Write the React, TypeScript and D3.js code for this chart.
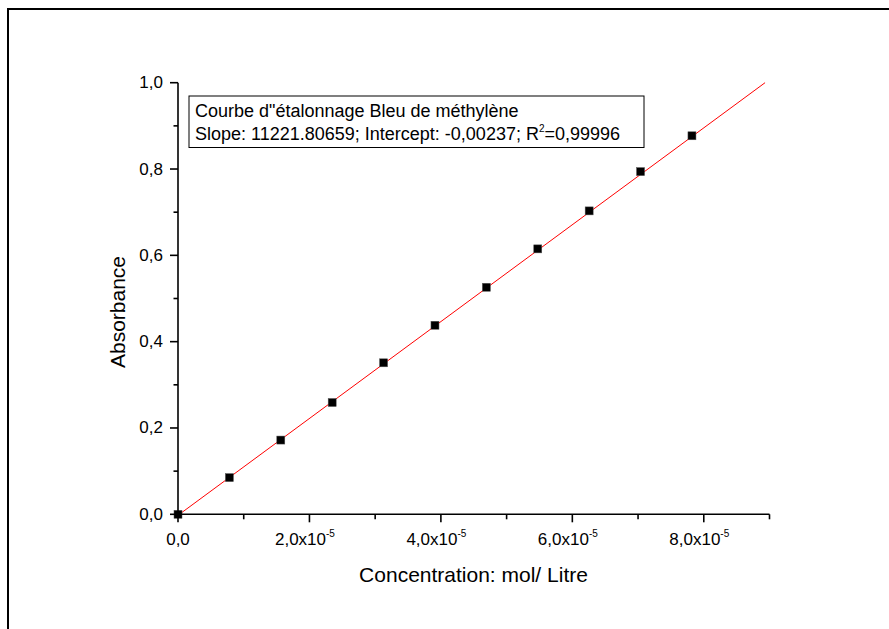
import React from "react";
import * as d3 from "d3";

const concentrations = [0, 0.782e-5, 1.564e-5, 2.346e-5, 3.128e-5, 3.91e-5, 4.692e-5, 5.474e-5, 6.256e-5, 7.038e-5, 7.82e-5];
const absorbances = [0, 0.085, 0.172, 0.259, 0.351, 0.438, 0.526, 0.615, 0.703, 0.794, 0.877];
const slope = 11221.80659;
const intercept = -0.00237;
const xMajorTicks = [0, 2e-5, 4e-5, 6e-5, 8e-5];
const xMinorTicks = [1e-5, 3e-5, 5e-5, 7e-5, 9e-5];
const xTickMantissas = ["0,0", "2,0", "4,0", "6,0", "8,0"];
const yMajorTicks = [0, 0.2, 0.4, 0.6, 0.8, 1.0];
const yMinorTicks = [0.1, 0.3, 0.5, 0.7, 0.9];
const yTickLabels = ["0,0", "0,2", "0,4", "0,6", "0,8", "1,0"];
const legendLine1 = "Courbe d\"étalonnage Bleu de méthylène";
const legendLine2a = "Slope: 11221.80659; Intercept: -0,00237; R";
const legendLine2b = "=0,99996";

export default function App() {
  const W = 889, H = 629;
  const x = d3.scaleLinear().domain([0, 9e-5]).range([178, 769.5]);
  const y = d3.scaleLinear().domain([0, 1]).range([514.3, 82.7]);
  const font = "Arial, 'Liberation Sans', sans-serif";

  const xEnd = Math.min(9e-5, (1 - intercept) / slope);
  const fitLine = d3.line<number>().x(d => x(d)).y(d => y(slope * d + intercept))([0, xEnd]);

  return (
    <svg width={W} height={H} style={{ position: "absolute", left: 0, top: 0, background: "#fff" }} fontFamily={font}>
      <rect x={0} y={0} width={W} height={H} fill="#fff" />
      <rect x={8} y={9} width={W + 20} height={H + 20} fill="none" stroke="#000" strokeWidth={2} />

      {/* fit line */}
      <path d={fitLine ?? ""} stroke="#ff0000" strokeWidth={1} fill="none" />

      {/* points */}
      {concentrations.map((c, i) => (
        <rect key={i} x={x(c) - 4} y={y(absorbances[i]) - 4} width={8} height={8} fill="#000" stroke="#555" strokeWidth={0.5} />
      ))}

      {/* axes */}
      <line x1={x(0)} x2={x(0)} y1={y(0) + 0.75} y2={y(1)} stroke="#000" strokeWidth={1.6} />
      <line x1={x(0)} x2={x(9e-5)} y1={y(0)} y2={y(0)} stroke="#000" strokeWidth={1.6} />

      {yMajorTicks.map((v, i) => (
        <g key={"ym" + i}>
          <line x1={x(0) - 8} x2={x(0)} y1={y(v)} y2={y(v)} stroke="#000" strokeWidth={1.6} />
          <text x={163} y={y(v) + 5.5} textAnchor="end" fontSize={17}>{yTickLabels[i]}</text>
        </g>
      ))}
      {yMinorTicks.map((v, i) => (
        <line key={"yn" + i} x1={x(0) - 4.5} x2={x(0)} y1={y(v)} y2={y(v)} stroke="#000" strokeWidth={1.6} />
      ))}
      {xMajorTicks.map((v, i) => (
        <g key={"xm" + i}>
          <line x1={x(v)} x2={x(v)} y1={y(0)} y2={y(0) + 8} stroke="#000" strokeWidth={1.6} />
          {i === 0 ? (
            <text x={x(v)} y={545} textAnchor="middle" fontSize={17}>{xTickMantissas[i]}</text>
          ) : (
            <text x={x(v) - 4.5} y={545} textAnchor="middle" fontSize={17}>
              {xTickMantissas[i] + "x10"}
              <tspan dy={-8} fontSize={10}>-5</tspan>
            </text>
          )}
        </g>
      ))}
      {xMinorTicks.map((v, i) => (
        <line key={"xn" + i} x1={x(v)} x2={x(v)} y1={y(0)} y2={y(0) + 5} stroke="#000" strokeWidth={1.6} />
      ))}

      {/* axis titles */}
      <text x={473.5} y={582} textAnchor="middle" fontSize={21}>Concentration: mol/ Litre</text>
      <text transform={`translate(125, 312) rotate(-90)`} textAnchor="middle" fontSize={21}>Absorbance</text>

      {/* legend */}
      <rect x={189} y={96} width={455} height={51.5} fill="#fff" stroke="#000" strokeWidth={1} />
      <text x={195} y={117} fontSize={18}>{legendLine1}</text>
      <text x={195} y={140} fontSize={18}>
        {legendLine2a}
        <tspan dy={-8} fontSize={10}>2</tspan>
        <tspan dy={8}>{legendLine2b}</tspan>
      </text>
    </svg>
  );
}
